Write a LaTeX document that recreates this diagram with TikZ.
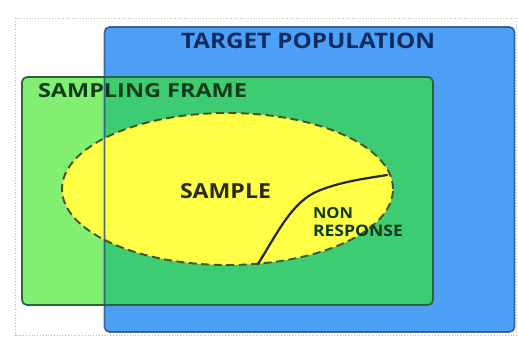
\documentclass[tikz,border=0pt]{standalone}
\usepackage{fontspec}
\usepackage{graphicx}
\setmainfont{Open Sans}
\usetikzlibrary{shapes.geometric}

\definecolor{popblue}{HTML}{4DA0F5}
\definecolor{popedge}{HTML}{1F4A86}
\definecolor{popink}{HTML}{0E2B60}
\definecolor{framelight}{HTML}{82EE72}
\definecolor{framedark}{HTML}{3ECC72}
\definecolor{frameedge}{HTML}{2A6438}
\definecolor{frameink}{HTML}{103A1C}
\definecolor{sampyellow}{HTML}{FFFF45}
\definecolor{sampedge}{HTML}{45541E}
\definecolor{sampink}{HTML}{2A2A12}

\tikzset{
  panel/.style={rectangle, rounded corners=5pt, inner sep=0pt, outer sep=0pt},
  caps/.style={inner sep=0pt, outer sep=0pt, anchor=north west},
}
% squeeze an all-caps label into a given width and cap height
\newcommand{\capsfit}[3]{\resizebox{#1pt}{#2pt}{\bfseries #3}}

\begin{document}
\begin{tikzpicture}[x=1pt, y=-1pt]
  \useasboundingbox (0,0) rectangle (518,343);

  % dotted page frame
  \draw[gray!55, dotted, line width=0.8pt] (15.5,18) rectangle (516.5,335);

  % target population
  \node[panel, fill=popblue, minimum width=410pt, minimum height=305pt] (tp) at (309.5,179.5) {};

  % sampling frame, lighter where it lies outside the population
  \node[panel, fill=framelight, minimum width=411pt, minimum height=228pt] (sf) at (227.5,191) {};
  \begin{scope}
    \clip[rounded corners=5pt] (tp.south west) rectangle (tp.north east);
    \fill[framedark, rounded corners=5pt] (sf.south west) rectangle (sf.north east);
  \end{scope}

  % sample
  \node[ellipse, fill=sampyellow, minimum width=331pt, minimum height=152pt, inner sep=0pt] (smp) at (227.5,189) {};

  % outlines drawn over the fills
  \draw[popedge, line width=1.7pt, opacity=0.8, rounded corners=5pt] (tp.south west) rectangle (tp.north east);
  \draw[frameedge, line width=1.7pt, rounded corners=5pt] (sf.south west) rectangle (sf.north east);
  \draw[sampedge, line width=1.9pt, dash pattern=on 8pt off 4.5pt] (smp.center) ellipse [x radius=165.5pt, y radius=76pt];

  % non-response boundary
  \coordinate (nrA) at (258,264);
  \coordinate (nrB) at (387,175);
  \draw[black!85, line width=2.2pt, line cap=round]
    (nrA) .. controls (278,232) and (292,202) .. (318,191)
          .. controls (340,182) and (362,179) .. (nrB);

  % labels
  \node[caps, text=popink] (tpl) at (181,33) {\capsfit{254}{15.5}{TARGET POPULATION}};
  \node[caps, text=frameink] (sfl) at (38,83) {\capsfit{209}{14}{SAMPLING FRAME}};
  \node[caps, text=sampink] (sml) at (180,183) {\capsfit{91}{15}{SAMPLE}};
  \node[caps, text=frameink] (nrl1) at (313,207) {\capsfit{40}{11}{NON}};
  \node[caps, text=frameink] (nrl2) at (313,225) {\capsfit{90}{11.5}{RESPONSE}};
\end{tikzpicture}
\end{document}
